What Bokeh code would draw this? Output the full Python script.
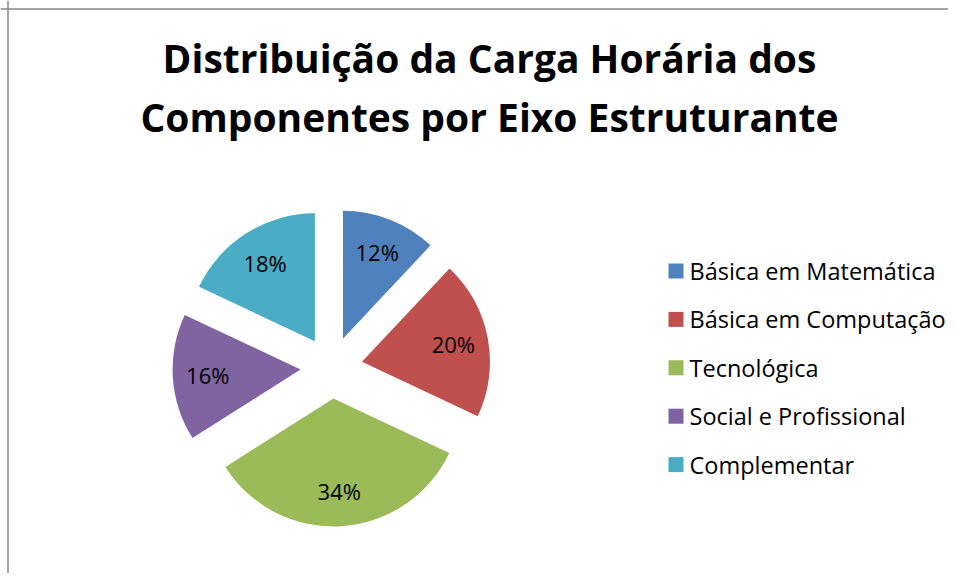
import math
from bokeh.plotting import figure
from bokeh.models import Range1d, Span
from bokeh.core.properties import value
from bokeh.embed import file_html
from bokeh.resources import INLINE

# ---- data ----
categories = ["Básica em Matemática", "Básica em Computação", "Tecnológica",
              "Social e Profissional", "Complementar"]
percent = [12, 20, 34, 16, 18]
colors = ["#4F81BD", "#C0504D", "#9BBB59", "#8064A2", "#4BACC6"]
title_lines = ["Distribuição da Carga Horária dos",
               "Componentes por Eixo Estruturante"]

# ---- layout (pixel based, origin at top-left of the figure) ----
W, H = 948, 573
FONT = "Open Sans"
def sx(x):
    return x
def sy(y):
    return H - y

cx, cy = sx(331), sy(367)
R = 128
EXPLODE = 31
LABEL_D = 124

p = figure(width=W, height=H, output_backend="svg", toolbar_location=None,
           x_range=Range1d(0, W), y_range=Range1d(0, H),
           x_axis_type=None, y_axis_type=None, min_border=0,
           outline_line_color=None, background_fill_color="white",
           border_fill_color="white")
p.grid.visible = False

total = sum(percent)
xs, ys, starts, ends, lx, ly, labels = [], [], [], [], [], [], []
cum = 0.0
for v in percent:
    a0 = math.pi / 2 - 2 * math.pi * cum / total
    a1 = math.pi / 2 - 2 * math.pi * (cum + v) / total
    mid = (a0 + a1) / 2
    xs.append(cx + EXPLODE * math.cos(mid))
    ys.append(cy + EXPLODE * math.sin(mid))
    starts.append(a0)
    ends.append(a1)
    lx.append(cx + LABEL_D * math.cos(mid))
    ly.append(cy + LABEL_D * math.sin(mid))
    labels.append(f"{v}%")
    cum += v

p.wedge(x=xs, y=ys, radius=R, start_angle=starts, end_angle=ends,
        direction="clock", fill_color=colors, line_color=None)

p.text(x=lx, y=ly, text=labels, text_font=value(FONT),
       text_font_size="22px", text_color="black",
       text_align="center", text_baseline="middle")

# title
p.text(x=[sx(489), sx(489)], y=[sy(57), sy(116)], text=title_lines,
       text_font=value(FONT), text_font_style="bold", text_font_size="39px",
       text_color="black", text_align="center", text_baseline="alphabetic")

# legend
leg_y0, leg_dy = 270.5, 48.4
leg_ys = [sy(leg_y0 + i * leg_dy) for i in range(len(categories))]
p.scatter(x=[sx(675.5)] * len(categories), y=leg_ys, marker="square", size=15,
          fill_color=colors, line_color=None)
p.text(x=[sx(689)] * len(categories), y=leg_ys, text=categories,
       text_font=value(FONT), text_font_size="23.5px", text_color="black",
       text_align="left", text_baseline="middle")

# chart border (top and left visible)
p.add_layout(Span(location=sy(8.5), dimension="width", line_color="#878787", line_width=1.5))
p.add_layout(Span(location=sx(7.5), dimension="height", line_color="#878787", line_width=1.5))

open("out.html", "w").write(file_html(p, INLINE))
